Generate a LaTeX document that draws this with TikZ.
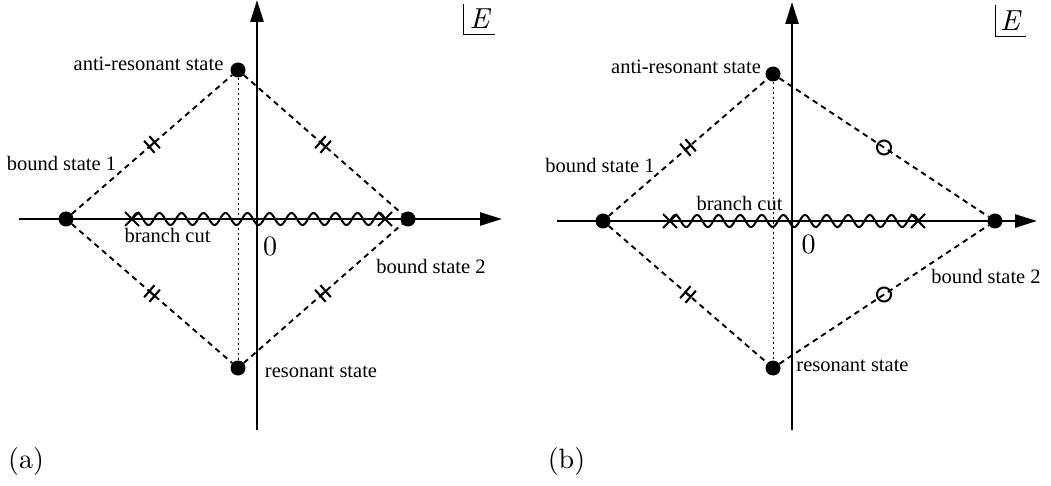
\documentclass[tikz,border=0pt]{standalone}
\usepackage{fontspec}
\newfontfamily\tms{Liberation Serif}
\newfontfamily\cmr{lmroman10-regular}[Extension=.otf]
\newfontfamily\cmi{lmroman10-italic}[Extension=.otf]
\usetikzlibrary{arrows.meta,shapes.misc,decorations.markings}

\tikzset{
  axis/.style={line width=2.6pt, -{Triangle[length=22pt,width=13pt]}},
  dot/.style={circle, fill=black, inner sep=0pt, minimum size=15pt},
  stateline/.style={line width=1.9pt, dash pattern=on 5.5pt off 4.5pt},
  guide/.style={line width=0.9pt, dash pattern=on 2.5pt off 2.5pt},
  wave/.style={line width=2pt},
  endpt/.style={cross out, draw, line width=2pt, inner sep=0pt, minimum size=12pt},
  lbl/.style={font=\tms\fontsize{20.5}{24}\selectfont, inner sep=0pt},
  big/.style={font=\cmr\fontsize{28}{32}\selectfont, inner sep=0pt},
  bigit/.style={font=\cmi\fontsize{29}{32}\selectfont, inner sep=0pt},
  dtick/.style={postaction={decorate, decoration={markings,
      mark=at position 0.5 with {\draw[solid, line width=2.1pt]
        (-3.5,-8) -- (-3.5,8) (3.5,-8) -- (3.5,8) (-3.5,0) -- (3.5,0);}}}},
  otick/.style={postaction={decorate, decoration={markings,
      mark=at position 0.5 with {\draw[solid, line width=2pt] (0,0) circle (7);}}}},
}

\begin{document}
\begin{tikzpicture}[x=1pt, y=-1pt]
\useasboundingbox (0,0) rectangle (1051,486);

% ---------------- panel (a) ----------------
\coordinate (a-xs) at (19,219);
\coordinate (a-xe) at (502,219);
\coordinate (a-ys) at (257,430);
\coordinate (a-ye) at (257,0);

% branch cut along the real axis
\draw[wave] plot[domain=0:253, samples=300] ({132+\x}, {219-6*sin(\x/22*360)});
\node[endpt] (a-c1) at (132,219) {};
\node[endpt] (a-c2) at (385,219) {};

\draw[axis] (a-xs) -- (a-xe);
\draw[axis] (a-ys) -- (a-ye);

\node[dot] (a-b1) at (66,219) {};
\node[dot] (a-b2) at (408,219) {};
\node[dot] (a-ar) at (238,70) {};
\node[dot] (a-rs) at (238,368) {};

\draw[guide] (a-ar) -- (a-rs);
\draw[stateline, dtick] (a-b1) -- (a-ar);
\draw[stateline, dtick] (a-ar) -- (a-b2);
\draw[stateline, dtick] (a-b1) -- (a-rs);
\draw[stateline, dtick] (a-rs) -- (a-b2);

\node[lbl] (a-lar) at (148.5,63.5) {anti-resonant state};
\node[lbl] (a-lb1) at (61.5,163.5) {bound state 1};
\node[lbl] (a-lbc) at (167.5,235) {branch cut};
\node[lbl] (a-lb2) at (431,266.5) {bound state 2};
\node[lbl] (a-lrs) at (321,371.5) {resonant state};
\node[big] (a-zero) at (270,246) {0};
\node[big] (a-tag) at (26,461) {(a)};
\node[bigit] (a-E) at (479.5,19) {E};
\draw[line width=1pt] (463,4) |- (495,35);

% ---------------- panel (b) ----------------
\coordinate (b-xs) at (557,221);
\coordinate (b-xe) at (1037,221);
\coordinate (b-ys) at (792,430);
\coordinate (b-ye) at (792,2);

\draw[wave] plot[domain=0:248, samples=300] ({670+\x}, {221-6*sin(\x/21.6*360)});
\node[endpt] (b-c1) at (670,221) {};
\node[endpt] (b-c2) at (918,221) {};

\draw[axis] (b-xs) -- (b-xe);
\draw[axis] (b-ys) -- (b-ye);

\node[dot] (b-b1) at (603,221) {};
\node[dot] (b-b2) at (995,221) {};
\node[dot] (b-ar) at (773,74) {};
\node[dot] (b-rs) at (773,368) {};

\draw[guide] (b-ar) -- (b-rs);
\draw[stateline, dtick] (b-b1) -- (b-ar);
\draw[stateline, otick] (b-ar) -- (b-b2);
\draw[stateline, dtick] (b-b1) -- (b-rs);
\draw[stateline, otick] (b-rs) -- (b-b2);

\node[lbl] (b-lar) at (686,66.5) {anti-resonant state};
\node[lbl] (b-lb1) at (600,165) {bound state 1};
\node[lbl] (b-lbc) at (739.5,203.5) {branch cut};
\node[lbl] (b-lb2) at (986,276.5) {bound state 2};
\node[lbl] (b-lrs) at (852.5,366) {resonant state};
\node[big] (b-zero) at (808.5,244) {0};
\node[big] (b-tag) at (566.5,461) {(b)};
\node[bigit] (b-E) at (1010,21) {E};
\draw[line width=1pt] (995,5) |- (1026,37);
\end{tikzpicture}
\end{document}
